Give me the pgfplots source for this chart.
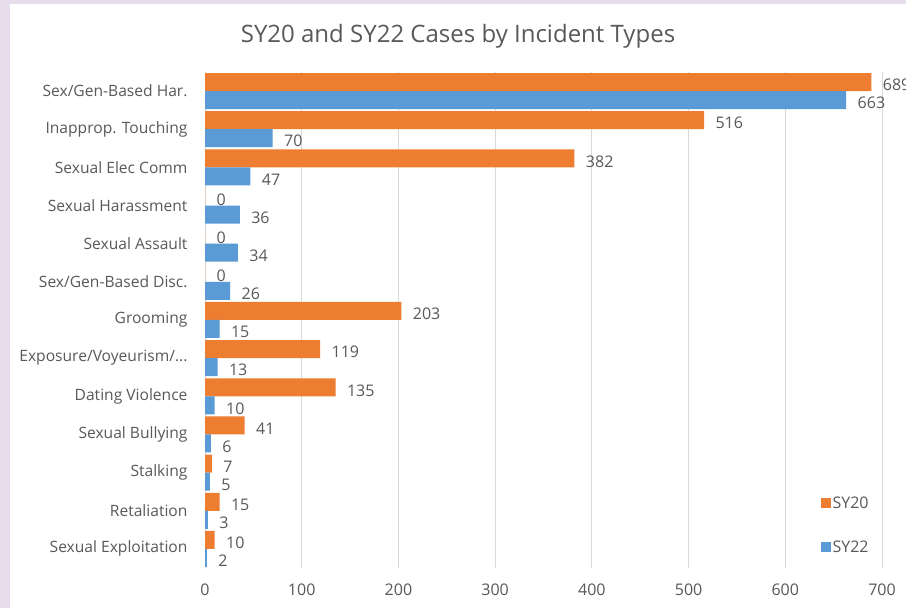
\documentclass[border=0pt]{standalone}
\usepackage{pgfplots}
\pgfplotsset{compat=1.18}
\usepackage{fontspec}
\setmainfont{Open Sans}
\definecolor{orng}{HTML}{ED7D31}
\definecolor{blu}{HTML}{5B9BD5}
\definecolor{txt}{HTML}{595959}
\definecolor{lav}{HTML}{E6DCEB}
\definecolor{grd}{HTML}{D9D9D9}
\begin{document}
\begin{tikzpicture}[x=1bp,y=1bp]
\fill[lav] (0,0) rectangle (906,608);
\fill[white] (10,0) rectangle (906,604);
\clip (0,0) rectangle (906,608);
\node[text=txt,font=\fontsize{24bp}{28bp}\selectfont, anchor=base] at (458,565) {SY20 and SY22 Cases by Incident Types};
\begin{axis}[
  at={(205bp,40bp)}, anchor=south west,
  scale only axis, width=677bp, height=496bp,
  xbar, bar width=18bp,
  xmin=0, xmax=700, ymin=-0.5, ymax=12.5,
  xtick={0,100,200,300,400,500,600,700},
  ytick={0,1,2,3,4,5,6,7,8,9,10,11,12},
  yticklabels={Sexual Exploitation,Retaliation,Stalking,Sexual Bullying,Dating Violence,{Exposure/Voyeurism/.{}.{}.},Grooming,Sex/Gen-Based Disc.,Sexual Assault,Sexual Harassment,Sexual Elec Comm,Inapprop. Touching,Sex/Gen-Based Har.},
  major tick length=0,
  axis line style={draw=none},
  xmajorgrids, grid style={grd, line width=1bp},
  tick label style={text=txt, font=\fontsize{15.6bp}{18bp}\selectfont},
  xticklabel style={font=\fontsize{16bp}{19bp}\selectfont, yshift=-12bp},
  /pgf/number format/assume math mode=true,
  yticklabel style={xshift=-14bp},
  nodes near coords,
  nodes near coords style={text=txt, font=\fontsize{16bp}{19bp}\selectfont, anchor=west, xshift=8bp, yshift=-3bp},
  legend style={at={(0.909,0.148)}, anchor=north west, draw=none, fill=none, row sep=27bp, text=txt, font=\fontsize{16bp}{19bp}\selectfont, inner sep=0pt},
  legend cell align=left,
  legend image code/.code={\fill[#1] (0bp,-5bp) rectangle (10bp,5bp);},
  clip=false,
]
\addplot[fill=orng, draw=none, bar shift=9bp] coordinates {
(10,0) (15,1) (7,2) (41,3) (135,4) (119,5) (203,6) (0,7) (0,8) (0,9) (382,10) (516,11) (689,12)};
\addplot[fill=blu, draw=none, bar shift=-9bp] coordinates {
(2,0) (3,1) (5,2) (6,3) (10,4) (13,5) (15,6) (26,7) (34,8) (36,9) (47,10) (70,11) (663,12)};
\legend{SY20,SY22}
\end{axis}
\end{tikzpicture}
\end{document}
